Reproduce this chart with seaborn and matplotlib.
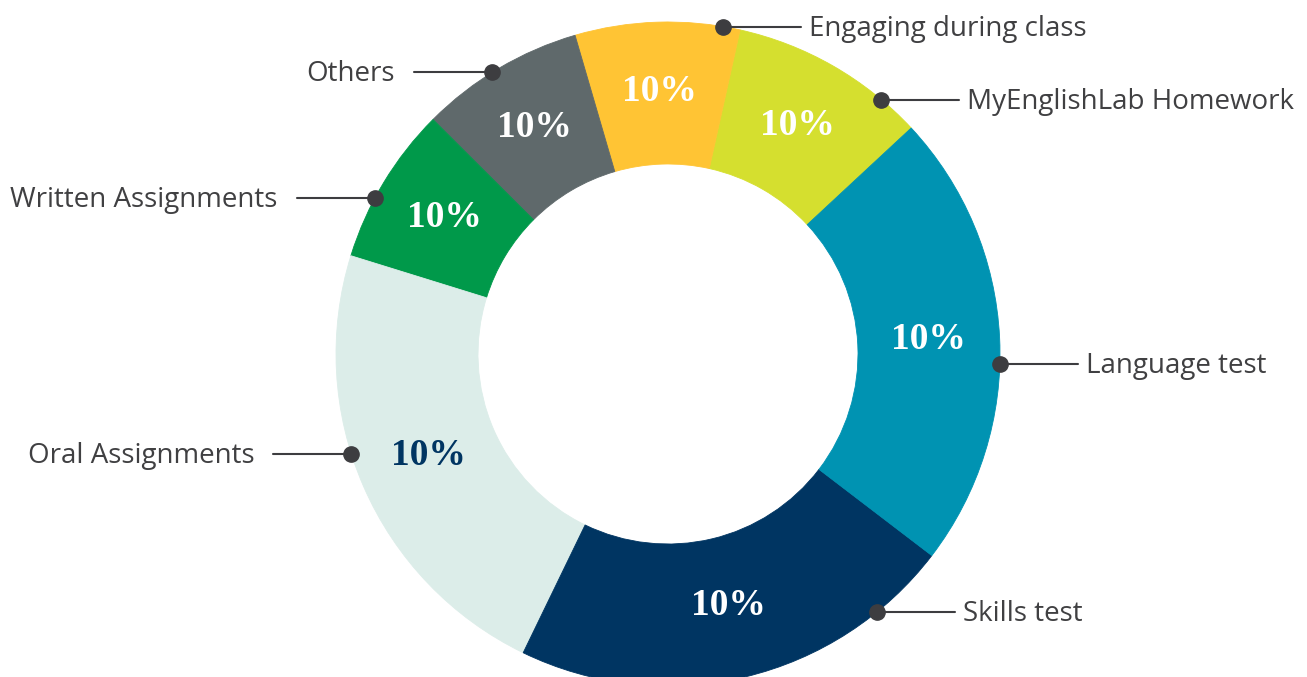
import numpy as np
import matplotlib
matplotlib.use('Agg')
import matplotlib.pyplot as plt
import seaborn as sns

sns.set_theme(style='white')
plt.rcParams['font.family'] = ['Open Sans', 'DejaVu Sans']

categories = ['MyEnglishLab Homework', 'Engaging during class', 'Others',
              'Written Assignments', 'Oral Assignments', 'Skills test', 'Language test']
shares = [9.6, 8.0, 8.0, 7.7, 22.6, 21.8, 22.3]
value_labels = ['10%'] * 7
colors = ['#D5DF2F', '#FFC434', '#5F696B', '#00994A', '#DCEDE9', '#003562', '#0093B2']
value_colors = ['white', 'white', 'white', 'white', '#003562', 'white', 'white']

# Layout of the leader lines: anchor angle on the outer edge, side of label
anchor_angles = [50.0, 80.5, 122, 152, 197.5, -50.9, -1.7]
sides = ['right', 'right', 'left', 'left', 'left', 'right', 'right']

W, H = 1307, 677
cx, cy = 668, H - 354
r_out, r_in = 332, 190

fig = plt.figure(figsize=(W / 100, H / 100), dpi=100)
ax = fig.add_axes([0, 0, 1, 1])

wedges, _ = ax.pie(shares, colors=colors, startangle=42.9, counterclock=True,
                   center=(cx, cy), radius=r_out, frame=True,
                   wedgeprops=dict(width=r_out - r_in, linewidth=0.6))
for w, c in zip(wedges, colors):
    w.set_edgecolor(c)

# Value labels in the middle of the ring
r_mid = (r_out + r_in) / 2
for w, lab, tc in zip(wedges, value_labels, value_colors):
    ang = np.deg2rad((w.theta1 + w.theta2) / 2)
    ax.text(cx + r_mid * np.cos(ang), cy + r_mid * np.sin(ang) + 2, lab,
            ha='center', va='center', color=tc, fontsize=27, fontweight='bold',
            family='Liberation Serif')

# Leader lines with dots and category names
line_col = '#3D3D40'
for name, a, side in zip(categories, anchor_angles, sides):
    t = np.deg2rad(a)
    x0, y0 = cx + r_out * np.cos(t), cy + r_out * np.sin(t)
    if side == 'right':
        x1 = x0 + 78
        ax.plot([x0, x1], [y0, y0], color=line_col, lw=1.5, zorder=3)
        ax.text(x1 + 8, y0 - 2, name, ha='left', va='center', fontsize=20, color='#404042')
    else:
        x1 = x0 - 78
        ax.plot([x1, x0], [y0, y0], color=line_col, lw=1.5, zorder=3)
        ax.text(x1 - 19, y0 - 2, name, ha='right', va='center', fontsize=20, color='#404042')
    ax.plot([x0], [y0], 'o', color=line_col, markersize=11, zorder=4)

ax.set_xlim(0, W)
ax.set_ylim(0, H)
ax.set_aspect('auto')
ax.axis('off')

fig.savefig('out.png', dpi=100)
